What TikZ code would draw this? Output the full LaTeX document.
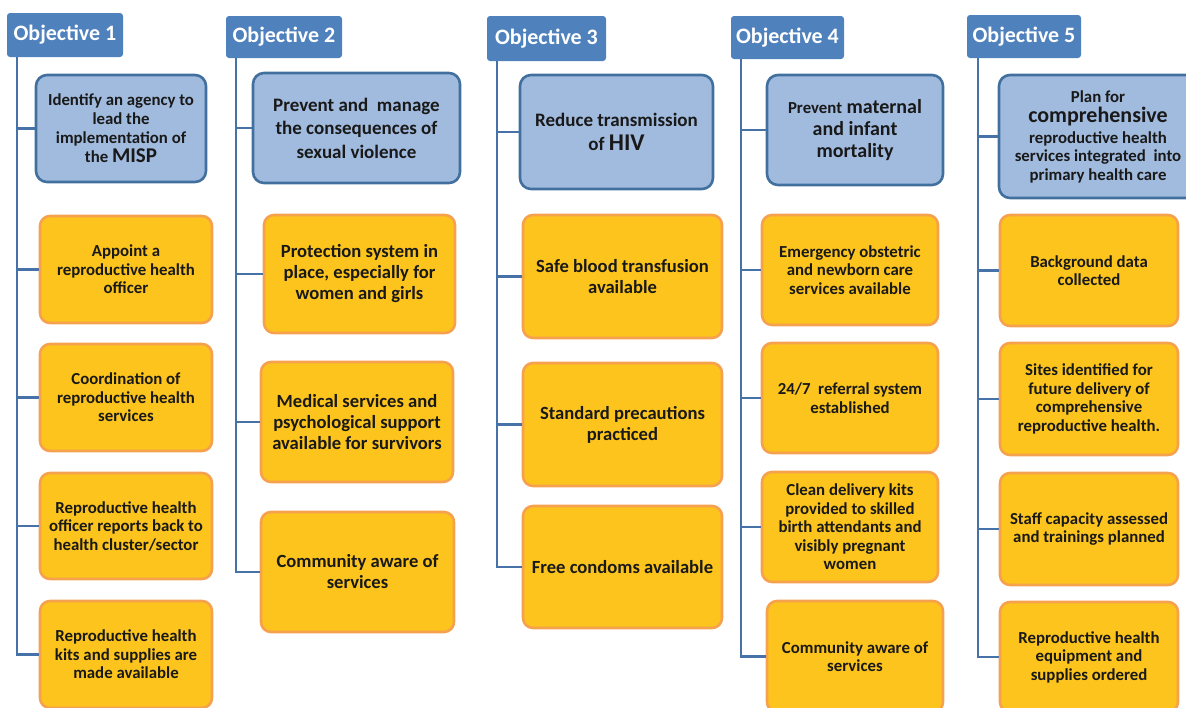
\documentclass[tikz,border=0pt]{standalone}
\usepackage{fontspec}
\setmainfont{Carlito}
\definecolor{hdrblue}{HTML}{4F81BD}
\definecolor{lnblue}{HTML}{4672A8}
\definecolor{bfill}{HTML}{A1BBDF}
\definecolor{bdraw}{HTML}{41709E}
\definecolor{ofill}{HTML}{FCC41C}
\definecolor{odraw}{HTML}{F6A14E}
\newcommand{\fs}[2]{\fontsize{#1}{#2}\selectfont}
\tikzset{
  hdr/.style={fill=hdrblue, rounded corners=3pt, text=white, inner sep=0pt,
    font=\fs{22}{24}\bfseries},
  bbox/.style={fill=bfill, draw=bdraw, line width=2.6pt, rounded corners=11pt,
    inner sep=0pt, align=center, text=black!90},
  obox/.style={fill=ofill, draw=odraw, line width=2.6pt, rounded corners=10pt,
    inner sep=0pt, align=center, text=black!90},
  conn/.style={draw=lnblue, line width=2.6pt},
  small/.style={font=\fs{16.8}{18.5}\bfseries},
  large/.style={font=\fs{18.6}{21}\bfseries},
}
\begin{document}
\begin{tikzpicture}[x=1pt,y=-1pt]
\useasboundingbox (0,0) rectangle (1186,707);
\clip (0,0) rectangle (1186,707);

% ---------------- Objective 1
\node[hdr, minimum width=116, minimum height=44] (h1) at (65,35) {Objective 1};
\node[bbox, minimum width=170, minimum height=107, font=\fs{16.8}{19}\bfseries] (b1) at (121,128.5)
  {Identify an agency to\\lead the\\implementation of\\the {\fs{21}{19}MISP}};
\node[obox, small, minimum width=172, minimum height=107] (o11) at (126,269.5)
  {Appoint a\\reproductive health\\officer};
\node[obox, small, minimum width=172, minimum height=107] (o12) at (126,397.5)
  {Coordination of\\reproductive health\\services};
\node[obox, small, minimum width=172, minimum height=106] (o13) at (126,526)
  {Reproductive health\\officer reports back to\\health cluster/sector};
\node[obox, small, minimum width=172, minimum height=107] (o14) at (126,654.5)
  {Reproductive health\\kits and supplies are\\made available};
\coordinate (s1) at ([xshift=10pt]h1.south west);
\draw[conn] (s1) |- (o14.west);
\foreach \n in {b1,o11,o12,o13} \draw[conn] (\n.west) -- (\n.west -| s1);

% ---------------- Objective 2
\node[hdr, minimum width=116, minimum height=42] (h2) at (284,37) {Objective 2};
\node[bbox, minimum width=207, minimum height=110, font=\fs{19}{23.5}\bfseries] (b2) at (356.5,128)
  {Prevent and~ manage\\the consequences of\\sexual violence};
\node[obox, large, minimum width=191, minimum height=118] (o21) at (359.5,274)
  {Protection system in\\place, especially for\\women and girls};
\node[obox, large, minimum width=192, minimum height=120] (o22) at (357,422)
  {Medical services and\\psychological support\\available for survivors};
\node[obox, large, minimum width=193, minimum height=120] (o23) at (357.5,572)
  {Community aware of\\services};
\coordinate (s2) at ([xshift=10pt]h2.south west);
\draw[conn] (s2) |- (o23.west);
\foreach \n in {b2,o21,o22} \draw[conn] (\n.west) -- (\n.west -| s2);

% ---------------- Objective 3
\node[hdr, minimum width=119, minimum height=45] (h3) at (546.5,38.5) {Objective 3};
\node[bbox, minimum width=193, minimum height=114, font=\fs{19}{24}\bfseries] (b3) at (616.5,132)
  {Reduce transmission\\of {\fs{24}{24}HIV}};
\node[obox, large, minimum width=199, minimum height=123] (o31) at (622.5,276.5)
  {Safe blood transfusion\\available};
\node[obox, large, minimum width=199, minimum height=123] (o32) at (622.5,424.5)
  {Standard precautions\\practiced};
\node[obox, large, minimum width=199, minimum height=122] (o33) at (622.5,567)
  {Free condoms available};
\coordinate (s3) at ([xshift=10pt]h3.south west);
\draw[conn] (s3) |- (o33.west);
\foreach \n in {b3,o31,o32} \draw[conn] (\n.west) -- (\n.west -| s3);

% ---------------- Objective 4
\node[hdr, minimum width=113, minimum height=43] (h4) at (787.5,37.5) {Objective 4};
\node[bbox, minimum width=176, minimum height=110, font=\fs{20}{22}\bfseries] (b4) at (855,130)
  {{\fs{16.8}{22}Prevent} maternal\\and infant\\mortality};
\node[obox, small, minimum width=176, minimum height=110] (o41) at (850,270)
  {Emergency obstetric\\and newborn care\\services available};
\node[obox, small, minimum width=176, minimum height=110] (o42) at (850,398)
  {24/7~ referral system\\established};
\node[obox, small, minimum width=176, minimum height=110] (o43) at (850,527)
  {Clean delivery kits\\provided to skilled\\birth attendants and\\visibly pregnant\\women};
\node[obox, small, minimum width=176, minimum height=111] (o44) at (855,656.5)
  {Community aware of\\services};
\coordinate (s4) at ([xshift=10pt]h4.south west);
\draw[conn] (s4) |- (o44.west);
\foreach \n in {b4,o41,o42,o43} \draw[conn] (\n.west) -- (\n.west -| s4);

% ---------------- Objective 5
\node[hdr, minimum width=114, minimum height=43] (h5) at (1024,36.5) {Objective 5};
\node[bbox, minimum width=198, minimum height=123, font=\fs{16.8}{18.5}\bfseries] (b5) at (1098,136.5)
  {Plan for\\[2pt]{\fs{22}{18.5}comprehensive}\\[2pt]reproductive health\\services integrated~ into\\primary health care};
\node[obox, small, minimum width=178, minimum height=111] (o51) at (1089,270.5)
  {Background data\\collected};
\node[obox, small, minimum width=178, minimum height=112] (o52) at (1089,399)
  {Sites identified for\\future delivery of\\comprehensive\\reproductive health.};
\node[obox, small, minimum width=178, minimum height=112] (o53) at (1089,529)
  {Staff capacity assessed\\and trainings planned};
\node[obox, small, minimum width=178, minimum height=110] (o54) at (1089,657)
  {Reproductive health\\equipment and\\supplies ordered};
\coordinate (s5) at ([xshift=11pt]h5.south west);
\draw[conn] (s5) |- (o54.west);
\foreach \n in {b5,o51,o52,o53} \draw[conn] (\n.west) -- (\n.west -| s5);
\end{tikzpicture}
\end{document}
